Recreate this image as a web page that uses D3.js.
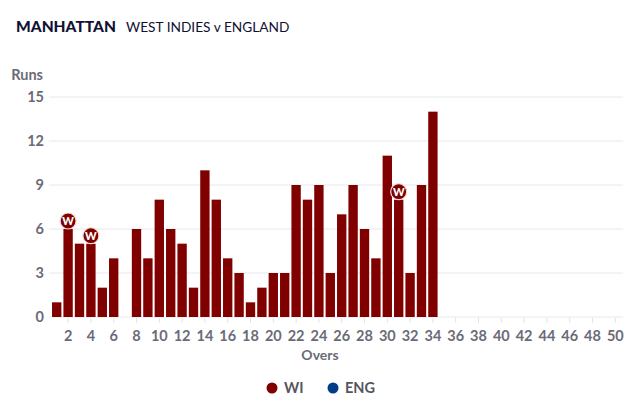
<!DOCTYPE html>
<html><head><meta charset="utf-8">
<script src="https://cdn.jsdelivr.net/npm/d3@7"></script>
<style>body{margin:0;background:#fff;} svg{display:block;}</style>
</head><body>
<svg id="chart" width="640" height="406"></svg>
<script>
const overs = d3.range(1, 51);
const wiRuns = [1,6,5,5,2,4,0,6,4,8,6,5,2,10,8,4,3,1,2,3,3,9,8,9,3,7,9,6,4,11,8,3,9,14];
const wiWickets = [2,4,31];
const engRuns = [];
const yTicks = [0,3,6,9,12,15];
const xTicks = d3.range(2, 51, 2);
const seriesNames = ["WI","ENG"];
const seriesColors = ["#800000","#003f87"];

const svg = d3.select("#chart");
const font = "Lato, 'Open Sans', sans-serif";
const grey = "#6b6b78";

svg.append("text").attr("x",16).attr("y",32).attr("font-family",font).attr("font-weight",900)
  .attr("font-size",15.5).attr("fill","#111133").text("MANHATTAN");
svg.append("text").attr("x",126).attr("y",32).attr("font-family",font).attr("font-weight",400)
  .attr("font-size",13.7).attr("fill","#111133").text("WEST INDIES v ENGLAND");

const x = d3.scaleBand().domain(overs).range([51, 621]).paddingInner(0.18).paddingOuter(0.09);
const y = d3.scaleLinear().domain([0,15]).range([317, 97]);

// grid
svg.append("g").selectAll("line").data(yTicks).join("line")
  .attr("x1",49).attr("x2",623).attr("y1",d=>y(d)).attr("y2",d=>y(d))
  .attr("stroke","#e8e8ec").attr("stroke-width",1);

// y labels
svg.append("g").selectAll("text").data(yTicks).join("text")
  .attr("x",44).attr("y",d=>y(d)+5).attr("text-anchor","end")
  .attr("font-family",font).attr("font-weight",700).attr("font-size",14.5).attr("fill",grey).text(d=>d);
svg.append("text").attr("x",43).attr("y",80).attr("text-anchor","end")
  .attr("font-family",font).attr("font-weight",700).attr("font-size",14.5).attr("fill",grey).text("Runs");

// x ticks
const xc = d => x(d) + x.bandwidth()/2;
svg.append("g").selectAll("line").data(xTicks).join("line")
  .attr("x1",xc).attr("x2",xc).attr("y1",318).attr("y2",323)
  .attr("stroke","#e3e3e8").attr("stroke-width",1);
svg.append("g").selectAll("text").data(xTicks).join("text")
  .attr("x",xc).attr("y",341).attr("text-anchor","middle")
  .attr("font-family",font).attr("font-weight",700).attr("font-size",14.5).attr("fill",grey).text(d=>d);
svg.append("text").attr("x",320).attr("y",360).attr("text-anchor","middle")
  .attr("font-family",font).attr("font-weight",700).attr("font-size",14).attr("fill",grey).text("Overs");

// bars
svg.append("g").selectAll("rect").data(wiRuns.map((v,i)=>({over:i+1,v}))).join("rect")
  .attr("x",d=>x(d.over)).attr("width",x.bandwidth())
  .attr("y",d=>y(d.v)).attr("height",d=>y(0)-y(d.v))
  .attr("fill",seriesColors[0]);

// wickets
const wg = svg.append("g").selectAll("g").data(wiWickets).join("g")
  .attr("transform",d=>`translate(${xc(d)},${y(wiRuns[d-1])-8})`);
wg.append("circle").attr("r",8).attr("fill","#800000").attr("stroke","#f5dcdc").attr("stroke-width",1.2);
wg.append("text").attr("y",4).attr("text-anchor","middle").attr("font-family",font)
  .attr("font-weight",900).attr("font-size",11).attr("fill","#fff").text("W");

// legend
const legX = [272, 333];
const lg = svg.append("g").selectAll("g").data(seriesNames).join("g")
  .attr("transform",(d,i)=>`translate(${legX[i]},388)`);
lg.append("circle").attr("r",5.5).attr("fill",(d,i)=>seriesColors[i]);
lg.append("text").attr("x",12).attr("y",5).attr("font-family",font).attr("font-weight",700)
  .attr("font-size",14.5).attr("fill","#555560").text(d=>d);
</script>
</body></html>
